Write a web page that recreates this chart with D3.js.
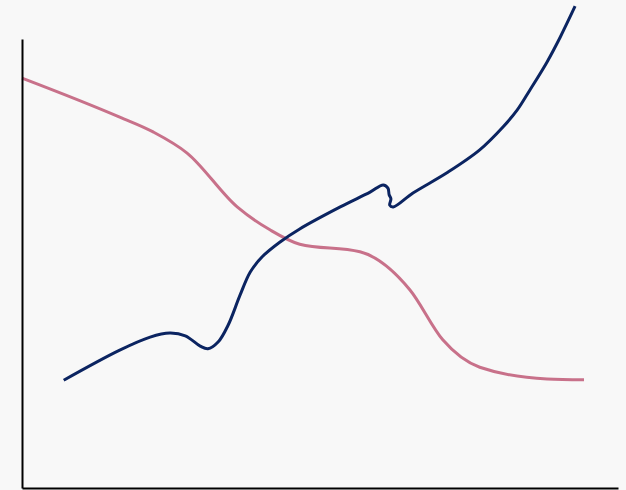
<!DOCTYPE html>
<html><head><meta charset="utf-8">
<script src="https://cdn.jsdelivr.net/npm/d3@7"></script>
<style>html,body{margin:0;padding:0;background:#f8f8f8;overflow:hidden}</style>
</head><body>
<svg id="c" width="626" height="490"></svg>
<script>
const navyX = [7.0,16.4,21.5,24.8,27.4,29.9,31.2,32.9,34.6,36.6,38.3,40.3,43.3,46.6,53.4,58.4,60.6,61.4,61.6,61.9,61.7,62.3,65.6,71.3,76.8,80.7,83.1,85.2,88.1,90.3,92.8];
const navyY = [24.0,30.7,33.6,34.5,33.9,31.6,31.0,32.5,36.3,43.0,48.1,51.5,54.8,57.7,62.6,65.9,67.5,66.8,65.3,64.4,63.0,62.6,65.7,70.2,75.3,80.4,84.2,88.6,94.9,100.4,107.3];
const pinkX = [0,16.4,22.0,27.7,36.1,41.6,46.6,56.7,65.1,70.6,76.8,88.1,94.3];
const pinkY = [91.3,82.6,79.3,74.6,62.6,57.5,54.3,52.6,44.1,33.0,26.9,24.3,24.1];

const svg = d3.select('#c');
svg.append('rect').attr('width',626).attr('height',490).attr('fill','#f8f8f8');
const x = d3.scaleLinear().domain([0,100]).range([22,618]);
const y = d3.scaleLinear().domain([0,100]).range([488,39]);

const pinkLine = d3.line().x(d=>x(d[0])).y(d=>y(d[1])).curve(d3.curveMonotoneX);
const navyLine = d3.line().x(d=>x(d[0])).y(d=>y(d[1])).curve(d3.curveCatmullRom.alpha(0.5));
svg.append('path').datum(pinkX.map((v,i)=>[v,pinkY[i]]))
  .attr('d',pinkLine).attr('fill','none').attr('stroke','#c8718a').attr('stroke-width',3);
svg.append('path').datum(navyX.map((v,i)=>[v,navyY[i]]))
  .attr('d',navyLine).attr('fill','none').attr('stroke','#0b2461').attr('stroke-width',3);

svg.append('g').attr('transform','translate(22,0)')
  .call(d3.axisLeft(y).ticks(0).tickSize(0).tickFormat(''))
  .call(g=>g.select('.domain').attr('stroke','#000').attr('stroke-width',2));
svg.append('g').attr('transform','translate(0,488)')
  .call(d3.axisBottom(x).ticks(0).tickSize(0).tickFormat(''))
  .call(g=>g.select('.domain').attr('stroke','#000').attr('stroke-width',2));
</script>
</body></html>
